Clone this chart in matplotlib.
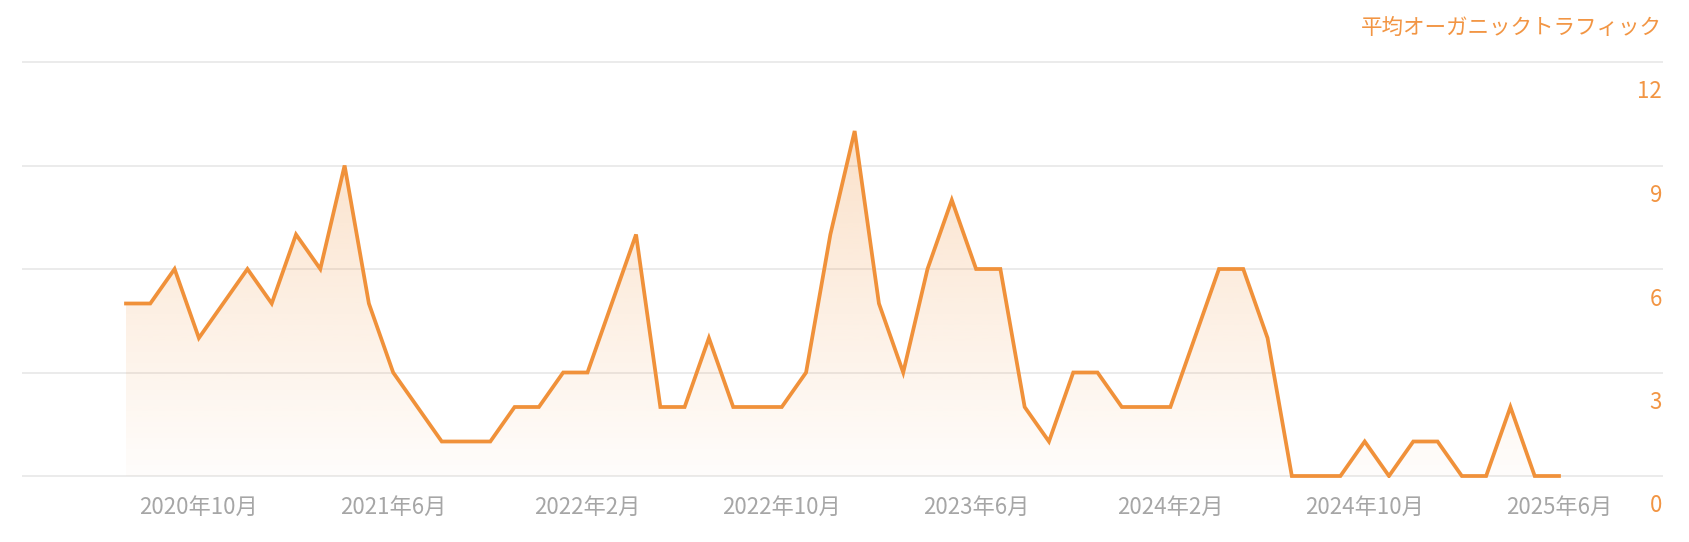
import matplotlib
matplotlib.use("Agg")
import matplotlib.pyplot as plt
import matplotlib.transforms as mtransforms
from matplotlib.patches import PathPatch
import numpy as np

plt.rcParams['font.family'] = ['Noto Sans CJK JP', 'DejaVu Sans']

# ---- data (monthly, 2020年7月 .. 2025年6月) ----
values = [5, 5, 6, 4, 5, 6, 5, 7, 6, 9,
          5, 3, 2, 1, 1, 1, 2, 2, 3, 3,
          5, 7, 2, 2, 4, 2, 2, 2, 3, 7,
          10, 5, 3, 6, 8, 6, 6, 2, 1, 3,
          3, 2, 2, 2, 4, 6, 6, 4, 0, 0,
          0, 1, 0, 1, 1, 0, 0, 2, 0, 0]
tick_positions = [3, 11, 19, 27, 35, 43, 51, 59]
tick_labels = ['2020年10月', '2021年6月', '2022年2月', '2022年10月',
               '2023年6月', '2024年2月', '2024年10月', '2025年6月']
y_ticks = [0, 3, 6, 9, 12]
title = '平均オーガニックトラフィック'

line_color = '#F0913A'
text_orange = '#F29543'
grid_color = '#E8E8E8'
label_gray = '#A6A6A6'

W, H = 1690, 542
fig = plt.figure(figsize=(W / 100, H / 100), dpi=100)
fig.patch.set_facecolor('white')

px_unit = 414 / 12.0
ypad = 0.05
bottom_px = 66 - ypad * px_unit
top_px = 480 + ypad * px_unit
left_px, right_px = 22, 1663
ax = fig.add_axes([left_px / W, bottom_px / H, (right_px - left_px) / W, (top_px - bottom_px) / H])

x = np.arange(len(values))
step = (1559 - 126) / 59.0
xmin = (left_px - 126) / step
xmax = (right_px - 126) / step

# gradient fill under the line
fb = ax.fill_between(x, values, 0, facecolor='none', edgecolor='none')
path = fb.get_paths()[0]
clip = PathPatch(path, transform=ax.transData, facecolor='none', edgecolor='none')
ax.add_patch(clip)
ymax_fill = max(values)
n = 256
grad = np.zeros((n, 1, 4))
rgb = matplotlib.colors.to_rgb(line_color)
grad[:, 0, 0] = rgb[0]
grad[:, 0, 1] = rgb[1]
grad[:, 0, 2] = rgb[2]
grad[:, 0, 3] = np.linspace(0.02, 0.27, n)
ax.imshow(grad, extent=[x[0], x[-1], 0, ymax_fill], origin='lower',
          aspect='auto', clip_path=clip, zorder=1, interpolation='bilinear')

ax.plot(x, values, color=line_color, lw=2.7, solid_joinstyle='miter', zorder=3)

ax.set_xlim(xmin, xmax)
ax.set_ylim(-ypad, 12 + ypad)

for s in ax.spines.values():
    s.set_visible(False)

ax.set_yticks(y_ticks)
ax.yaxis.grid(True, color=grid_color, lw=1.2)
ax.set_axisbelow(True)
ax.tick_params(axis='y', length=0, labelleft=False, labelright=False)

ax.set_xticks(tick_positions)
ax.set_xticklabels(tick_labels)
ax.tick_params(axis='x', length=0, pad=13, labelsize=16, labelcolor=label_gray)

# y tick labels: right-aligned, sitting below their gridlines
base = mtransforms.blended_transform_factory(ax.transAxes, ax.transData)
trans = mtransforms.offset_copy(base, fig=fig, x=-1, y=-30, units='dots')
for v in y_ticks:
    ax.text(1.0, v, str(v), transform=trans, ha='right', va='center',
            fontsize=16, color=text_orange, clip_on=False)

fig.text(1662 / W, 1 - 28 / H, title, ha='right', va='center',
         fontsize=15.5, color=text_orange)

fig.savefig('out.png', dpi=100, facecolor='white')
